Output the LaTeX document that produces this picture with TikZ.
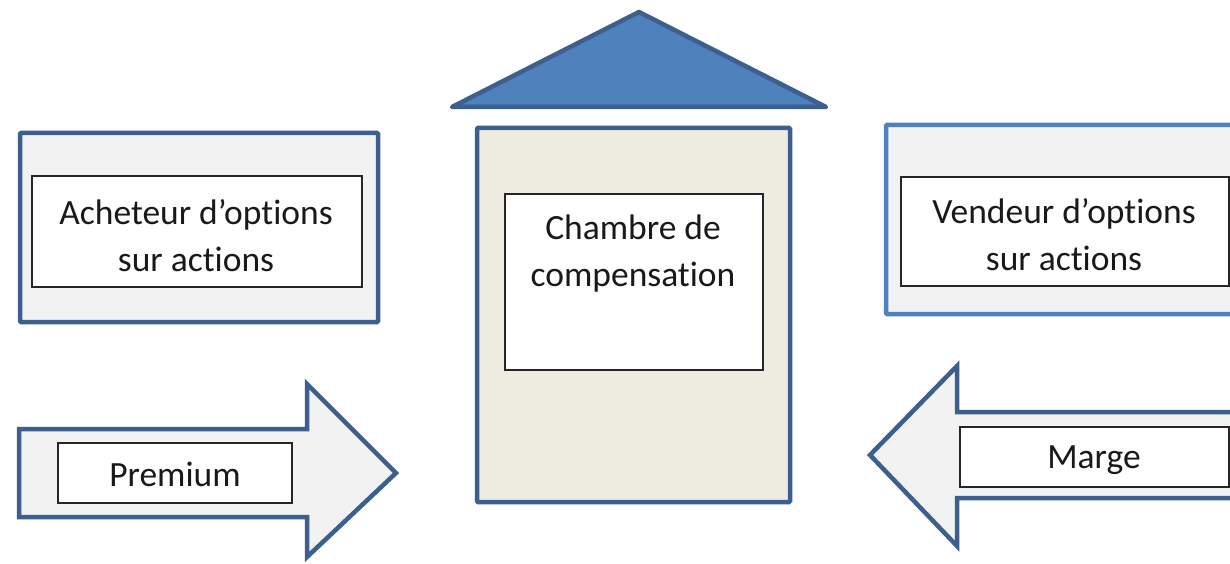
\documentclass[tikz,border=0pt]{standalone}
\usepackage{fontspec}
\setmainfont[Ligatures={NoCommon,NoRare}]{Carlito}
\definecolor{dkblue}{HTML}{3C5F8E}
\definecolor{ltblue}{HTML}{4F81BD}
\definecolor{roofblue}{HTML}{4F81BD}
\definecolor{boxgray}{HTML}{F2F2F2}
\definecolor{beige}{HTML}{EEECE1}
\begin{document}
\begin{tikzpicture}[x=1pt,y=-1pt,
  outerbox/.style={draw=dkblue,line width=4.5pt,fill=boxgray,rounded corners=1pt},
  innerbox/.style={draw=black!85,line width=1.3pt,fill=white},
  lbl/.style={font=\fontsize{35.5}{47}\selectfont,align=center,text=black!90,inner sep=0pt},
  arrowshape/.style={draw=dkblue,line width=4.5pt,fill=boxgray,line join=miter}]
\useasboundingbox (0,0) rectangle (1230,564);
\clip (0,0) rectangle (1230,564);
% left box
\draw[outerbox] (20,133) rectangle (378,322);
\draw[innerbox] (32,176) rectangle (362,287);
\node[lbl] (buyer) at (196,236) {Acheteur d’options\\sur actions};
% roof
\draw[draw=dkblue,line width=4.5pt,fill=roofblue,line join=round] (452,107) -- (639,12) -- (826,107) -- cycle;
% center body
\draw[outerbox,fill=beige] (477,128) rectangle (790,502);
\draw[innerbox] (505,194) rectangle (763,370);
\node[lbl] (chambre) at (633,254) {Chambre de\\compensation};
% right box
\draw[outerbox,draw=ltblue] (886,125) rectangle (1250,314);
\draw[innerbox] (901,177) rectangle (1229,286);
\node[lbl] (seller) at (1064,235) {Vendeur d’options\\sur actions};
% left arrow
\draw[arrowshape] (19,429) -- (307,429) -- (307,384) -- (396,473) -- (307,557) -- (307,517) -- (19,517) -- cycle;
\draw[innerbox] (58,443) rectangle (292,503);
\node[lbl] (premium) at (175,474) {Premium};
% right arrow
\draw[arrowshape] (1250,412) -- (957,412) -- (957,366) -- (870,455) -- (957,546) -- (957,498) -- (1250,498) -- cycle;
\draw[innerbox] (960,427) rectangle (1229,487);
\node[lbl] (marge) at (1094,460) {Marge};
\end{tikzpicture}
\end{document}
